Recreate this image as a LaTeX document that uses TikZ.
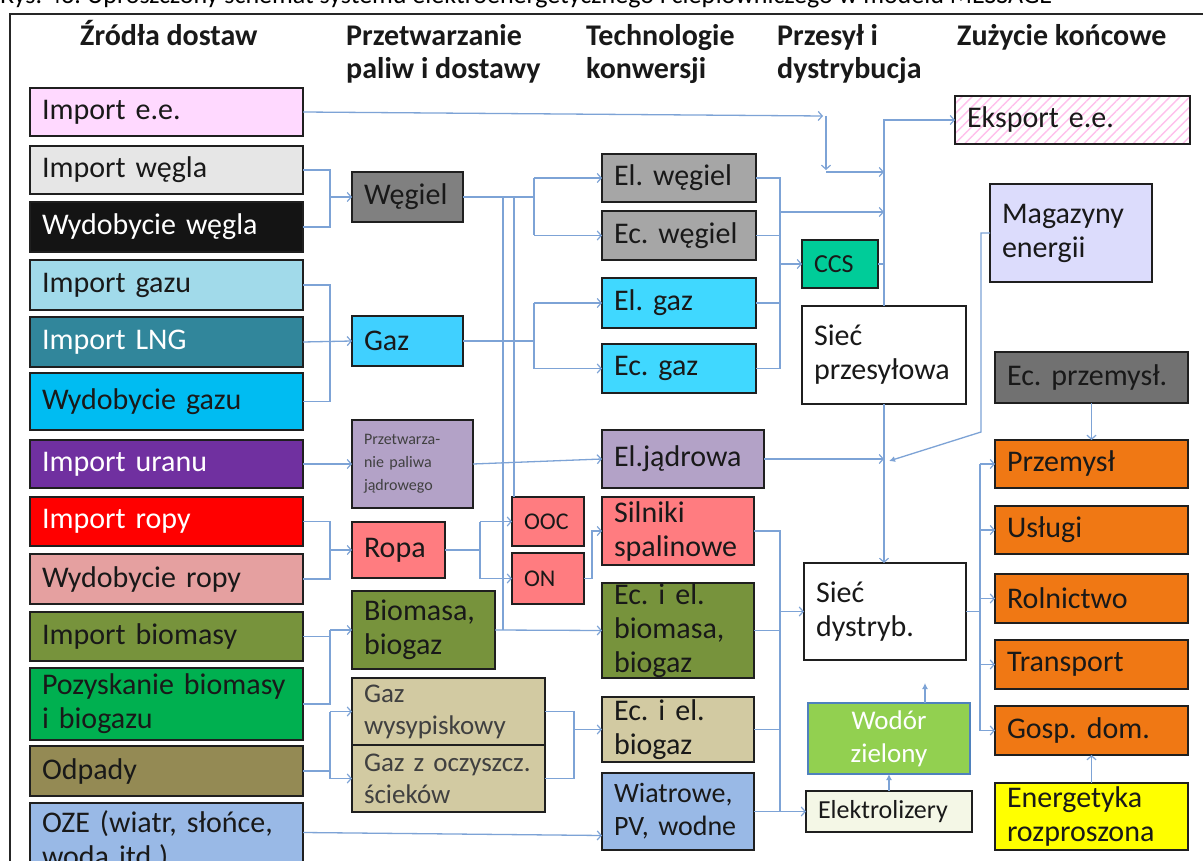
\documentclass[tikz,border=0pt]{standalone}
\usepackage{fontspec}
\setmainfont{Carlito}
\usetikzlibrary{arrows.meta,patterns.meta}
\frenchspacing
\definecolor{lnk}{HTML}{7DA3D6}
\definecolor{cIEE}{HTML}{FFD9FF}
\definecolor{cIW}{HTML}{E6E6E6}
\definecolor{cWW}{HTML}{141414}
\definecolor{cIG}{HTML}{A1DAEA}
\definecolor{cLNG}{HTML}{31869B}
\definecolor{cWG}{HTML}{00BCF2}
\definecolor{cIU}{HTML}{7030A0}
\definecolor{cIR}{HTML}{FF0000}
\definecolor{cWR}{HTML}{E5A0A0}
\definecolor{cOl}{HTML}{77933C}
\definecolor{cPB}{HTML}{00B050}
\definecolor{cOdp}{HTML}{948A54}
\definecolor{cOZE}{HTML}{99B9E6}
\definecolor{cWeg}{HTML}{808080}
\definecolor{cGaz}{HTML}{40D0FF}
\definecolor{cPr}{HTML}{B3A2C7}
\definecolor{cRopa}{HTML}{FF7C80}
\definecolor{cTan}{HTML}{D2CAA2}
\definecolor{cGr}{HTML}{A6A6A6}
\definecolor{cElG}{HTML}{40D8FF}
\definecolor{cCCS}{HTML}{00CC99}
\definecolor{cH2}{HTML}{92D050}
\definecolor{cH2b}{HTML}{4F81BD}
\definecolor{cEl}{HTML}{F4F7E6}
\definecolor{cMag}{HTML}{DCDCFC}
\definecolor{cEcp}{HTML}{717171}
\definecolor{cOr}{HTML}{F07814}
\definecolor{cYe}{HTML}{FFFF00}
\definecolor{cHatch}{HTML}{FFC0EC}
\newcommand\fsA{\fontsize{30}{34}\selectfont}
\newcommand\bx[7]{\node[box,#6,minimum width=#4pt,minimum height=#5pt,text width=\dimexpr#4pt-24pt\relax] (#1) at (#2,#3) {#7};}
\begin{document}
\begin{tikzpicture}[x=1pt,y=-1pt,
  box/.style={draw=black!88, line width=2.6pt, inner sep=0pt, outer sep=0pt, anchor=north west, align=left, font=\fsA, text=black!90},
  hdr/.style={inner sep=0pt, anchor=base west, align=left, font=\fontsize{30}{33}\selectfont\bfseries, text=black!90},
  conn/.style={draw=lnk, line width=1.3pt},
  arr/.style={conn, -{Straight Barb[length=4pt,width=9pt,line width=1.2pt]}},
  farr/.style={conn, -{Latex[length=6pt,width=6pt]}},
]
\clip (0,0) rectangle (1203,861);
\fill[white] (0,0) rectangle (1203,861);
% caption (cut off at top)
\node[inner sep=0pt, anchor=base west, font=\fontsize{26}{30}\selectfont] (cap) at (0,4) {Rys. 43. Uproszczony schemat systemu elektroenergetycznego i ciepłowniczego w modelu MESSAGE};
% frame
\draw[line width=2pt, black!85] (10,880) -- (10,14) -- (1215,14);
% headers (base = last line)
\node[hdr] (h1) at (80,46) {Źródła dostaw};
\node[hdr] (h2) at (346,79) {Przetwarzanie\\paliw i dostawy};
\node[hdr] (h3) at (586,79) {Technologie\\konwersji};
\node[hdr] (h4) at (777,79) {Przesył i\\dystrybucja};
\node[hdr] (h5) at (957,46) {Zużycie końcowe};
% column 1
\bx{iee}{30}{88}{273}{48}{fill=cIEE}{Import e.e.}
\bx{iw}{30}{146}{273}{48}{fill=cIW}{Import węgla}
\bx{ww}{30}{202}{273}{50}{fill=cWW,text=white}{Wydobycie węgla}
\bx{ig}{30}{260}{273}{50}{fill=cIG}{Import gazu}
\bx{lng}{30}{317}{273}{50}{fill=cLNG,text=white}{Import LNG}
\bx{wg}{30}{373}{273}{57}{fill=cWG}{Wydobycie gazu}
\bx{iu}{30}{440}{273}{48}{fill=cIU,text=white}{Import uranu}
\bx{ir}{30}{497}{273}{49}{fill=cIR,text=white}{Import ropy}
\bx{wr}{30}{554}{273}{50}{fill=cWR}{Wydobycie ropy}
\bx{ib}{30}{612}{273}{49}{fill=cOl}{Import biomasy}
\bx{pb}{30}{668}{273}{72}{fill=cPB}{\mbox{Pozyskanie biomasy}\\i biogazu}
\bx{odp}{30}{746}{273}{50}{fill=cOdp}{Odpady}
\bx{oze}{30}{803}{273}{75}{fill=cOZE}{\mbox{OZE (wiatr, słońce,}\\\mbox{woda itd.)}}
% column 2
\bx{weg}{352}{172}{111}{50}{fill=cWeg}{Węgiel}
\bx{gaz}{352}{316}{111}{50}{fill=cGaz}{Gaz}
\bx{przetw}{352}{420}{121}{88}{fill=cPr,text=black!75,font=\fontsize{16}{23}\selectfont}{Przetwarza-\\nie paliwa\\jądrowego}
\bx{ropa}{352}{522}{93}{56}{fill=cRopa}{Ropa}
\bx{bio}{352}{591}{143}{78}{fill=cOl}{Biomasa,\\biogaz}
\bx{gw}{352}{678}{193}{67}{fill=cTan,text=black!75,font=\fontsize{27}{32}\selectfont}{Gaz\\wysypiskowy}
\bx{gzo}{352}{745}{193}{67}{fill=cTan,text=black!75,font=\fontsize{27}{32}\selectfont}{\mbox{Gaz z oczyszcz.}\\ścieków}
\bx{ooc}{512}{497}{72}{49}{fill=cRopa,font=\fontsize{24}{28}\selectfont}{OOC}
\bx{on}{512}{553}{72}{51}{fill=cRopa,font=\fontsize{24}{28}\selectfont}{ON}
% column 3
\bx{elw}{602}{154}{154}{48}{fill=cGr}{El. węgiel}
\bx{ecw}{602}{211}{154}{49}{fill=cGr}{Ec. węgiel}
\bx{elg}{602}{278}{154}{50}{fill=cElG}{El. gaz}
\bx{ecg}{602}{344}{154}{49}{fill=cElG}{Ec. gaz}
\bx{elj}{602}{430}{162}{58}{fill=cPr}{El.jądrowa}
\bx{sil}{602}{497}{152}{68}{fill=cRopa}{Silniki\\spalinowe}
\bx{ecb}{602}{583}{152}{95}{fill=cOl}{Ec. i el.\\biomasa,\\biogaz}
\bx{ecbg}{602}{697}{152}{65}{fill=cTan}{Ec. i el.\\biogaz}
\bx{wia}{602}{773}{152}{77}{fill=cOZE,font=\fontsize{28}{33}\selectfont}{Wiatrowe,\\\mbox{PV, wodne}}
% column 4
\bx{ccs}{802}{240}{76}{48}{fill=cCCS,font=\fontsize{26}{30}\selectfont}{CCS}
\bx{sp}{802}{306}{164}{98}{fill=white}{Sieć\\przesyłowa}
\bx{sd}{804}{563}{162}{97}{fill=white}{Sieć\\dystryb.}
\node[box, fill=cH2, draw=cH2b, text=white, align=center, font=\fontsize{27}{33}\selectfont, minimum width=162pt, minimum height=71pt, text width=140pt] (h2o) at (808,703) {Wodór\\zielony};
\bx{el}{806}{791}{166}{41}{fill=cEl,font=\fontsize{26}{30}\selectfont}{Elektrolizery}
% column 5
\bx{eks}{955}{96}{235}{48}{preaction={fill=white},pattern={Lines[angle=45,distance=7pt,line width=1.4pt]},pattern color=cHatch}{Eksport e.e.}
\bx{mag}{990}{184}{162}{98}{fill=cMag}{Magazyny\\energii}
\bx{ecp}{995}{352}{193}{51}{fill=cEcp}{Ec. przemysł.}
\bx{prz}{995}{440}{193}{48}{fill=cOr}{Przemysł}
\bx{usl}{995}{506}{193}{48}{fill=cOr}{Usługi}
\bx{rol}{995}{574}{193}{49}{fill=cOr}{Rolnictwo}
\bx{tra}{995}{640}{193}{49}{fill=cOr}{Transport}
\bx{gd}{995}{706}{193}{49}{fill=cOr}{Gosp. dom.}
\bx{en}{995}{783}{193}{67}{fill=cYe}{Energetyka\\rozproszona}
% helper coordinates
\coordinate (c1) at (330,0);
\coordinate (b1) at (534,0);
\coordinate (v1) at (503,0);
\coordinate (v2) at (514,0);
\coordinate (r1) at (480,0);
\coordinate (g1) at (574,0);
\coordinate (k1) at (780,0);
\coordinate (t1) at (826,0);
\coordinate (dv) at (980,0);
\coordinate (m1) at (981,0);
\coordinate (on1) at (592,0);
\coordinate (h2up) at (925,683);
\coordinate (ieeA) at (823,116);
\coordinate (jA) at (889,461);
% column 1 -> 2
\draw[conn] (iw.east) -- (iw.east -| c1) -- (ww.east -| c1) -- (ww.east);
\draw[arr] (c1 |- weg.west) -- (weg.west);
\draw[conn] (ig.east) -- (ig.east -| c1) -- (wg.east -| c1) -- (wg.east);
\draw[arr] (lng.east) -- (gaz.west);
\draw[arr] (iu.east) -- (przetw.west);
\draw[conn] (ir.east) -- (ir.east -| c1) -- (wr.east -| c1) -- (wr.east);
\draw[arr] (c1 |- ropa.west) -- (ropa.west);
\draw[conn] (ib.east) -- (ib.east -| c1);
\draw[conn] (pb.east) -- (pb.east -| c1) -- (c1 |- bio.west);
\draw[arr] (c1 |- bio.west) -- (bio.west);
\draw[conn] (odp.east) -- (odp.east -| c1);
\draw[conn] (c1 |- gw.west) -- (c1 |- gzo.west);
\draw[arr] (c1 |- gw.west) -- (gw.west);
\draw[arr] (c1 |- gzo.west) -- (gzo.west);
\draw[arr] ([yshift=8pt]oze.east) -- ([yshift=-24pt]wia.west);
% column 2 -> 3
\draw[conn] (weg.east) -- (weg.east -| b1);
\draw[conn] (b1 |- elw.west) -- (b1 |- ecw.west);
\draw[arr] (b1 |- elw.west) -- (elw.west);
\draw[arr] (b1 |- ecw.west) -- (ecw.west);
\draw[conn] (weg.east -| v1) -- (v1 |- bio.east);
\draw[conn] (weg.east -| v2) -- (v2 |- ooc.north);
\draw[conn] (gaz.east) -- (gaz.east -| b1);
\draw[conn] (b1 |- elg.west) -- (b1 |- ecg.west);
\draw[arr] (b1 |- elg.west) -- (elg.west);
\draw[arr] (b1 |- ecg.west) -- (ecg.west);
\draw[arr] (przetw.east) -- (elj.west);
\draw[conn] (ropa.east) -- (ropa.east -| r1);
\draw[conn] (r1 |- ooc.west) -- (r1 |- on.west);
\draw[arr] (r1 |- ooc.west) -- (ooc.west);
\draw[arr] (r1 |- on.west) -- (on.west);
\draw[arr] (on.east) -- (on.east -| on1) -- (on1 |- sil.west) -- (sil.west);
\draw[arr] (bio.east) -- (ecb.west);
\draw[conn] (gw.east) -- (gw.east -| g1) -- (g1 |- gzo.east) -- (gzo.east);
\draw[arr] (g1 |- ecbg.west) -- (ecbg.west);
% column 3 -> 4
\draw[conn] (elw.east) -- (elw.east -| k1) -- (k1 |- ecg.east) -- (ecg.east);
\draw[conn] (ecw.east) -- (ecw.east -| k1);
\draw[conn] (elg.east) -- (elg.east -| k1);
\draw[arr] (k1 |- ccs.west) -- (ccs.west);
\draw[conn] (ccs.east) -- (ccs.east -| sp.north);
\draw[arr] (sp.north) |- (eks.west);
\draw[arr] (iee.east) -- (ieeA);
\draw[arr] (ieeA -| t1) -- (t1 |- 0,170);
\draw[arr] (t1 |- 0,172) -- (sp.north |- 0,172);
\draw[arr] (k1 |- 0,212) -- (sp.north |- 0,212);
\draw[arr] (sp.south) -- (sp.south |- sd.north);
\draw[arr] (elj.east) -- (elj.east -| sp.south);
\draw[farr] (mag.west) -- (mag.west -| m1) -- (m1 |- 0,432) -- (jA);
\draw[conn] (sil.east) -- (sil.east -| k1) -- (k1 |- wia.east);
\draw[conn] (ecb.east) -- (ecb.east -| k1);
\draw[conn] (ecbg.east) -- (ecbg.east -| k1);
\draw[arr] (k1 |- sd.west) -- (sd.west);
\draw[arr] (wia.east) -- (el.west);
\draw[farr] (el.north) -- (el.north |- h2o.south);
\draw[farr] (h2o.north -| h2up) -- (h2up);
% column 4 -> 5
\draw[conn] (sd.east) -- (sd.east -| dv);
\draw[conn] (dv |- prz.west) -- (dv |- gd.west);
\draw[arr] (dv |- prz.west) -- (prz.west);
\draw[arr] (dv |- usl.west) -- (usl.west);
\draw[arr] (dv |- rol.west) -- (rol.west);
\draw[arr] (dv |- tra.west) -- (tra.west);
\draw[arr] (dv |- gd.west) -- (gd.west);
\draw[arr] (ecp.south) -- (prz.north);
\draw[arr] (en.north) -- (gd.south);
\end{tikzpicture}
\end{document}
